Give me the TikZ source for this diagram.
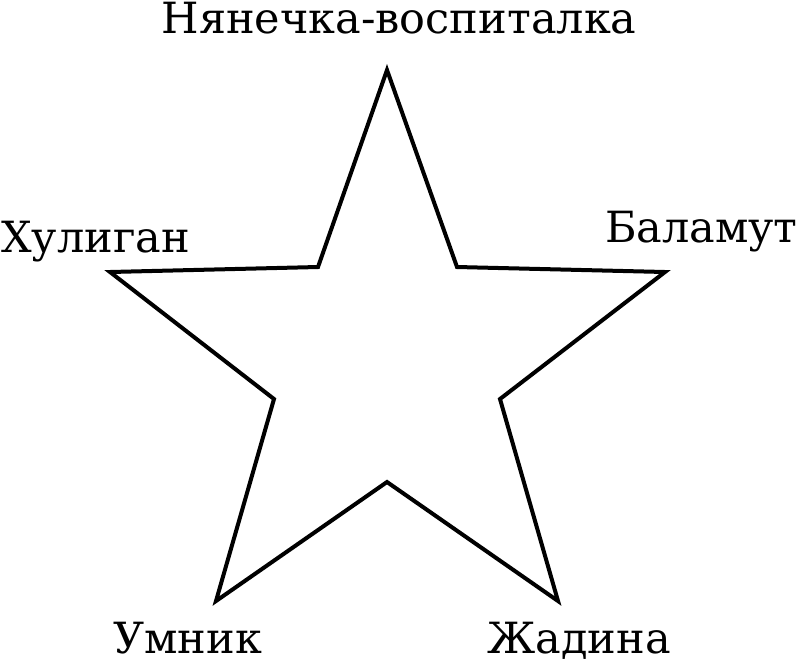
\documentclass[tikz,border=0pt]{standalone}
\usepackage{fontspec}
\setmainfont{DejaVu Serif}
\begin{document}
\begin{tikzpicture}[x=1pt,y=-1pt,
  lbl/.style={font=\fontsize{43}{48}\selectfont, inner sep=0pt},
  starline/.style={draw=black, line width=4pt, line join=miter}]
\useasboundingbox (0,0) rectangle (799,665);
\coordinate (p1) at (387,70);
\coordinate (q1) at (318,267);
\coordinate (p2) at (110,272);
\coordinate (q2) at (274,399);
\coordinate (p3) at (216,601);
\coordinate (q3) at (387,482);
\coordinate (p4) at (558,601);
\coordinate (q4) at (500,399);
\coordinate (p5) at (665,272);
\coordinate (q5) at (457,267);
\draw[starline] (p1) -- (q1) -- (p2) -- (q2) -- (p3) -- (q3) -- (p4) -- (q4) -- (p5) -- (q5) -- cycle;
\node[lbl, anchor=base] (top) at (399,33) {Нянечка-воспиталка};
\node[lbl, anchor=base west] (hul) at (1,252) {Хулиган};
\node[lbl, anchor=base east] (bal) at (798,242) {Баламут};
\node[lbl, anchor=base west] (umn) at (113,653) {Умник};
\node[lbl, anchor=base west] (zhad) at (487,653) {Жадина};
\end{tikzpicture}
\end{document}
